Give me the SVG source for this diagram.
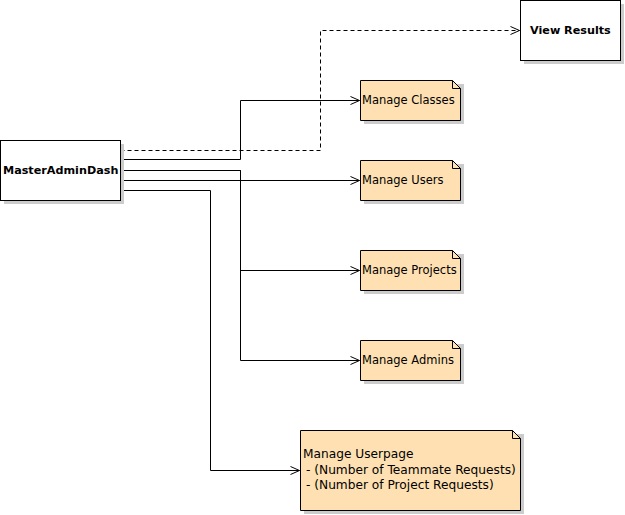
<svg xmlns="http://www.w3.org/2000/svg" width="625" height="515" viewBox="0 0 625 515">
  <style>
    .shadow { fill: #cccccc; stroke: none; }
    .box { fill: #ffffff; stroke: #000000; stroke-width: 1; }
    .note { fill: #fee0b2; stroke: #000000; stroke-width: 1; }
    .fold { fill: none; stroke: #000000; stroke-width: 1; }
    .bold { font-family: "DejaVu Sans", sans-serif; font-size: 11.2px; font-weight: bold; fill: #000; }
    .lbl { font-family: "DejaVu Sans", sans-serif; font-size: 11.5px; fill: #000; }
    .big { font-size: 12.2px; }
    .wire { fill: none; stroke: #000000; stroke-width: 1; }
    .dash { stroke-dasharray: 4 3; }
  </style>
  <defs>
    <marker id="open" viewBox="0 0 10 10" refX="10" refY="5" markerWidth="10" markerHeight="10" markerUnits="userSpaceOnUse" orient="auto">
      <path d="M1,1 L10,5 L1,9" fill="none" stroke="#000" stroke-width="1"/>
    </marker>
  </defs>
  <rect width="625" height="515" fill="#ffffff"/>

  <g id="connectors">
    <polyline class="wire dash" points="120.5,150.5 320.5,150.5 320.5,30.5 519.5,30.5" marker-end="url(#open)"/>
    <polyline class="wire" points="120.5,159.5 240.5,159.5 240.5,100.5 359.5,100.5" marker-end="url(#open)"/>
    <polyline class="wire" points="120.5,180.5 359.5,180.5" marker-end="url(#open)"/>
    <polyline class="wire" points="120.5,170.5 240.5,170.5 240.5,270.5 359.5,270.5" marker-end="url(#open)"/>
    <polyline class="wire" points="120.5,170.5 240.5,170.5 240.5,360.5 359.5,360.5" marker-end="url(#open)"/>
    <polyline class="wire" points="120.5,190.5 210.5,190.5 210.5,470.5 299.5,470.5" marker-end="url(#open)"/>
  </g>

  <g id="master-admin-dash">
    <rect class="shadow" x="4" y="144" width="120" height="60"/>
    <rect class="box" x="0.5" y="140.5" width="120" height="60"/>
    <text class="bold" x="3" y="174">MasterAdminDash</text>
  </g>

  <g id="view-results">
    <rect class="shadow" x="524" y="4" width="100" height="60"/>
    <rect class="box" x="520.5" y="0.5" width="100" height="60"/>
    <text class="bold" x="530" y="34">View Results</text>
  </g>

  <g id="manage-classes">
    <path class="shadow" d="M364,84 H464 V124 H364 Z"/>
    <path class="note" d="M360.5,80.5 H452.5 L460.5,88.5 V120.5 H360.5 Z"/>
    <path class="fold" d="M452.5,80.5 V88.5 H460.5"/>
    <text class="lbl" x="362" y="104">Manage Classes</text>
  </g>

  <g id="manage-users">
    <path class="shadow" d="M364,164 H464 V204 H364 Z"/>
    <path class="note" d="M360.5,160.5 H452.5 L460.5,168.5 V200.5 H360.5 Z"/>
    <path class="fold" d="M452.5,160.5 V168.5 H460.5"/>
    <text class="lbl" x="362" y="184">Manage Users</text>
  </g>

  <g id="manage-projects">
    <path class="shadow" d="M364,254 H464 V294 H364 Z"/>
    <path class="note" d="M360.5,250.5 H452.5 L460.5,258.5 V290.5 H360.5 Z"/>
    <path class="fold" d="M452.5,250.5 V258.5 H460.5"/>
    <text class="lbl" x="362" y="274">Manage Projects</text>
  </g>

  <g id="manage-admins">
    <path class="shadow" d="M364,344 H464 V384 H364 Z"/>
    <path class="note" d="M360.5,340.5 H452.5 L460.5,348.5 V380.5 H360.5 Z"/>
    <path class="fold" d="M452.5,340.5 V348.5 H460.5"/>
    <text class="lbl" x="362" y="364">Manage Admins</text>
  </g>

  <g id="manage-userpage">
    <path class="shadow" d="M304,434 H524 V514 H304 Z"/>
    <path class="note" d="M300.5,430.5 H512.5 L520.5,438.5 V510.5 H300.5 Z"/>
    <path class="fold" d="M512.5,430.5 V438.5 H520.5"/>
    <text class="lbl big" x="303" y="458">Manage Userpage</text>
    <text class="lbl big" x="306" y="474">- (Number of Teammate Requests)</text>
    <text class="lbl big" x="306" y="489">- (Number of Project Requests)</text>
  </g>
</svg>
